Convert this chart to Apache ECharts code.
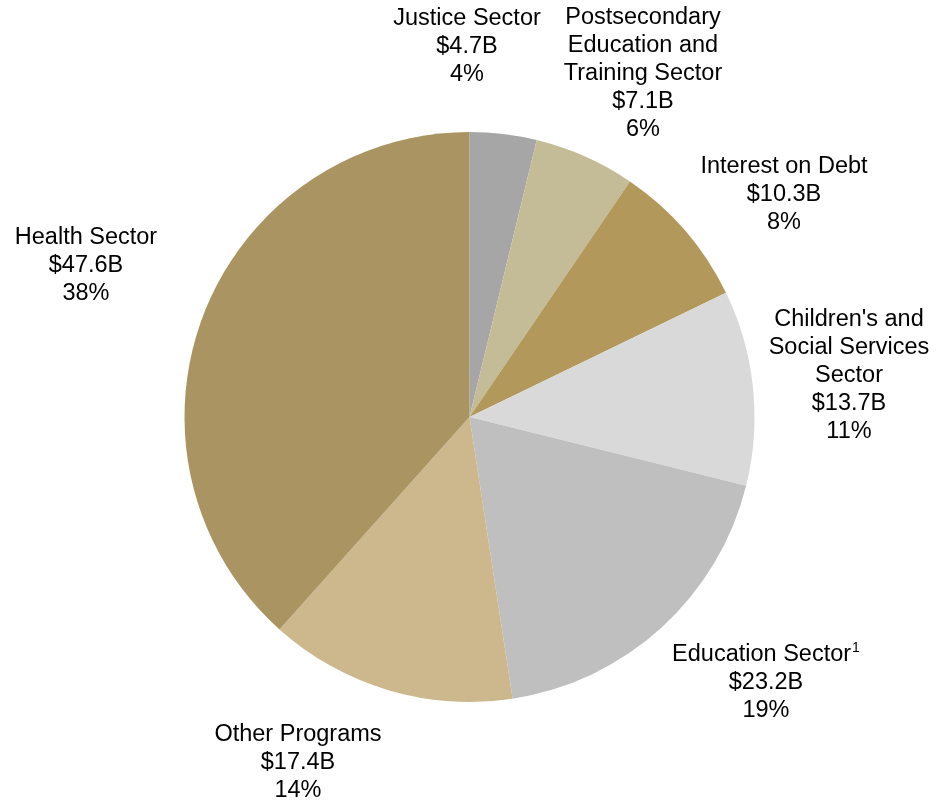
<!DOCTYPE html>
<html>
<head>
<meta charset="utf-8">
<script src="https://cdn.jsdelivr.net/npm/echarts@6/dist/echarts.min.js"></script>
<style>
  html, body { margin: 0; padding: 0; background: #ffffff; }
  #chart { width: 939px; height: 804px; }
</style>
</head>
<body>
<div id="chart"></div>
<script>
// Expense categories, clockwise from 12 o'clock
const categories = [
  'Justice Sector',
  'Postsecondary\nEducation and\nTraining Sector',
  'Interest on Debt',
  "Children's and\nSocial Services\nSector",
  'Education Sector',
  'Other Programs',
  'Health Sector'
];
// Spending, $ billions
const amounts = [4.7, 7.1, 10.3, 13.7, 23.2, 17.4, 47.6];
// Footnote markers appended to category names
const footnotes = ['', '', '', '', '1', '', ''];

// Styling and label placement (kept apart from the data)
const sliceColors = ['#A6A6A6', '#C4BC97', '#B3985B', '#D9D9D9', '#BFBFBF', '#CDB88E', '#AA9461'];
const labelCenters = [
  [467, 47], [643, 74], [784, 195], [849, 376], [766, 683], [298, 763], [86, 266]
];

const chart = echarts.init(document.getElementById('chart'), null, { renderer: 'canvas' });

const seriesData = categories.map((name, i) => ({
  name: name,
  value: amounts[i],
  itemStyle: { color: sliceColors[i] }
}));

chart.setOption({
  animation: false,
  backgroundColor: '#ffffff',
  series: [{
    type: 'pie',
    center: [469.5, 417],
    radius: 285,
    startAngle: 90,
    clockwise: true,
    avoidLabelOverlap: false,
    data: seriesData,
    itemStyle: { borderWidth: 0 },
    emphasis: { disabled: true },
    labelLine: { show: false },
    label: {
      show: true,
      position: 'outside',
      color: '#000000',
      fontFamily: '"Liberation Sans", Arial, sans-serif',
      fontSize: 23.5,
      lineHeight: 28,
      align: 'center',
      formatter: function (p) {
        const note = footnotes[p.dataIndex];
        const head = p.name + (note ? '{sup|' + note + '}' : '');
        return head + '\n$' + p.value.toFixed(1) + 'B\n' + Math.round(p.percent) + '%';
      },
      rich: {
        sup: {
          fontSize: 14,
          lineHeight: 28,
          verticalAlign: 'top',
          padding: [0, 0, 14, 1],
          fontFamily: '"Liberation Sans", Arial, sans-serif',
          color: '#000000'
        }
      }
    },
    labelLayout: function (params) {
      const c = labelCenters[params.dataIndex];
      return {
        x: c[0],
        y: c[1],
        align: 'center',
        verticalAlign: 'middle',
        hideOverlap: false,
        moveOverlap: false
      };
    }
  }]
});
</script>
</body>
</html>
